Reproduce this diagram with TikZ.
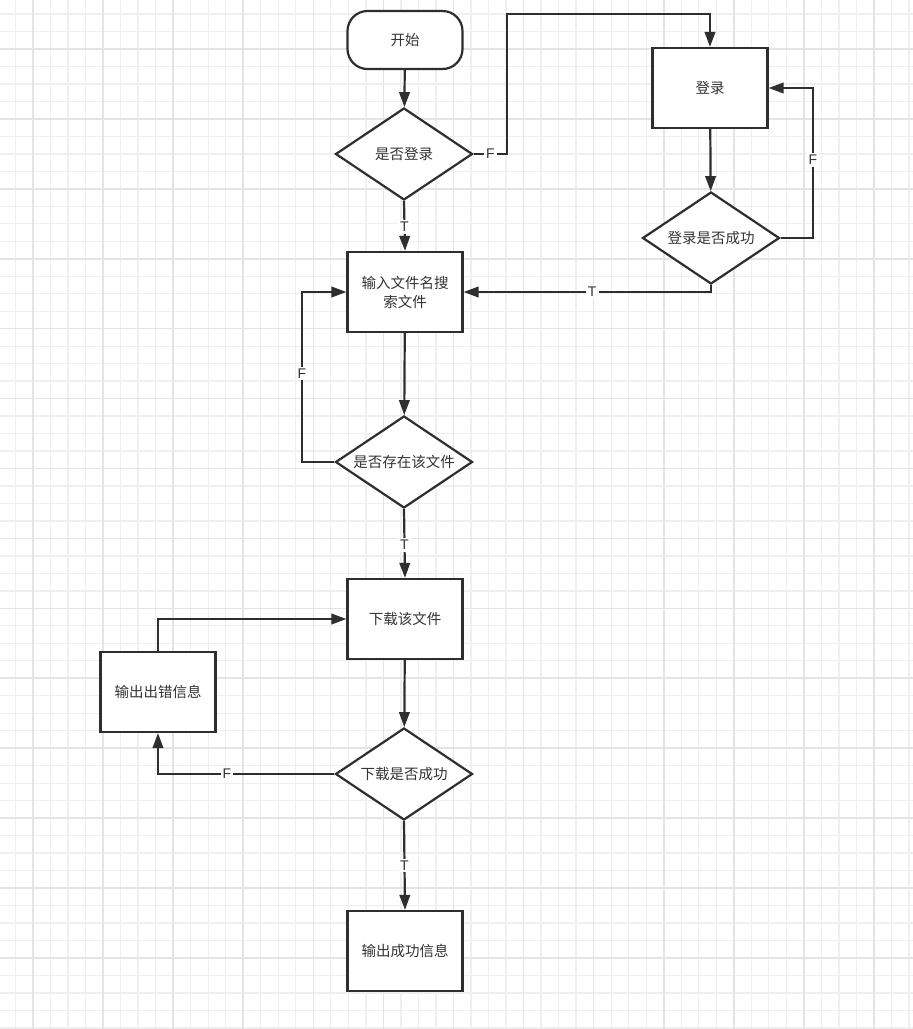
\documentclass[tikz,border=0pt]{standalone}
\usepackage{fontspec}
\newfontfamily\cjk{Noto Sans CJK SC}
\newfontfamily\lblfont{Liberation Sans}
\usetikzlibrary{shapes.geometric,arrows.meta,calc}
\definecolor{ink}{HTML}{2E2E2E}
\definecolor{textink}{HTML}{333333}
\definecolor{gridminor}{HTML}{EFEFEF}
\definecolor{gridmajor}{HTML}{E4E4E4}
\tikzset{
  base/.style={draw=ink, line width=2.2pt, text=textink, font=\cjk\fontsize{14.5}{19}\selectfont, fill=white, inner sep=0pt},
  procbox/.style={base, rectangle, minimum width=115pt, minimum height=80pt, align=center},
  termbox/.style={base, rectangle, rounded corners=20pt, minimum width=115pt, minimum height=58pt},
  decide/.style={base, diamond, aspect=1.49, minimum width=137pt, minimum height=92pt},
  conn/.style={draw=ink, line width=2.2pt, -{Triangle[length=15pt,width=10.5pt]}},
  lbl/.style={fill=white, text=textink, font=\lblfont\fontsize{14}{16}\selectfont, inner sep=2pt},
  minorline/.style={draw=gridminor, line width=1.3pt},
  majorline/.style={draw=gridmajor, line width=1.6pt}
}
\begin{document}
\begin{tikzpicture}[x=1pt,y=-1pt]
\useasboundingbox (0,0) rectangle (913,1029);
\fill[white] (0,0) rectangle (913,1029);
% grid
\foreach \i in {-1,...,50} \draw[minorline] ({33+17.52*\i},0) -- ({33+17.52*\i},1029);
\foreach \j in {-2,...,56} \draw[minorline] (0,{49+17.48*\j}) -- (913,{49+17.48*\j});
\foreach \i in {0,...,12} \draw[majorline] ({33+70.08*\i},0) -- ({33+70.08*\i},1029);
\foreach \j in {0,...,13} \draw[majorline] (0,{49+69.92*\j}) -- (913,{49+69.92*\j});
% nodes
\node[termbox] (start) at (405,40) {开始};
\node[decide] (d1) at (404,154) {是否登录};
\node[procbox] (login) at (710,88) {登录};
\node[decide] (d2) at (711,238) {登录是否成功};
\node[procbox] (search) at (405,292) {输入文件名搜\\索文件};
\node[decide] (d3) at (404,462) {是否存在该文件};
\node[procbox] (down) at (405,619) {下载该文件};
\node[decide] (d4) at (404,774) {下载是否成功};
\node[procbox] (err) at (158,692) {输出出错信息};
\node[procbox] (ok) at (405,951) {输出成功信息};
\coordinate (c1) at (507,154);
\coordinate (c1t) at (507,14);
\coordinate (c2) at (813,238);
\coordinate (c3) at (302,462);
% connectors
\draw[conn] (start) -- (d1);
\draw[conn] (d1.east) -- node[lbl,pos=0.5]{F} (c1) -- (c1t) -- (c1t -| login.north) -- (login.north);
\draw[conn] (login) -- (d2);
\draw[conn] (d2.east) -- (c2) -- node[lbl,pos=0.52]{F} (c2 |- login.east) -- (login.east);
\draw[conn] (d2.south) |- node[lbl,pos=0.74]{T} (search.east);
\draw[conn] (d1.south) -- node[lbl,pos=0.52]{T} (search.north);
\draw[conn] (search) -- (d3);
\draw[conn] (d3.west) -- (c3) -- node[lbl,pos=0.52]{F} (c3 |- search.west) -- (search.west);
\draw[conn] (d3.south) -- node[lbl,pos=0.52]{T} (down.north);
\draw[conn] (down) -- (d4);
\draw[conn] (d4.west) -| node[lbl,pos=0.305]{F} (err.south);
\draw[conn] (err.north) |- (down.west);
\draw[conn] (d4.south) -- node[lbl,pos=0.5]{T} (ok.north);
\end{tikzpicture}
\end{document}
